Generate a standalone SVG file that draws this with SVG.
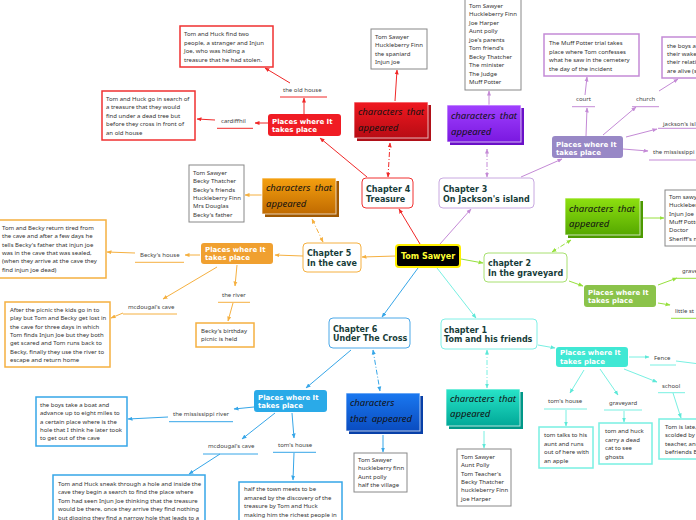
<svg xmlns="http://www.w3.org/2000/svg" width="696" height="520" viewBox="0 0 696 520">
<defs>
<style>
.t{font-family:"Noto Sans","Open Sans",sans-serif;font-size:6px;fill:#333}
.lb{font-family:"Noto Sans","Open Sans",sans-serif;font-size:6px;fill:#444}
.ch{font-family:"DejaVu Sans",Verdana,sans-serif;font-weight:bold;font-size:8px;fill:#163c38}
.pl{font-family:"DejaVu Sans",Verdana,sans-serif;font-weight:bold;font-size:7px;fill:#fff}
.ca{font-family:"Noto Sans",sans-serif;font-style:italic;font-size:9.5px;fill:#111;word-spacing:2px}
.root{font-family:"DejaVu Sans",Verdana,sans-serif;font-weight:bold;font-size:8px;fill:#ffff33}
.chap{fill:#fff;stroke-width:1}
.info{fill:#fff;stroke-width:1.5}
.names{fill:#fff;stroke:#888;stroke-width:1}
.cbox{stroke:#fff;stroke-opacity:.7;stroke-width:1}
.c line,.c path{fill:none;stroke-width:1}
.r{stroke:#f02828}.p{stroke:#c48ad6}.g{stroke:#96e03c}.cy{stroke:#78f0e2}.b{stroke:#36a6e8}.o{stroke:#f5b040}
.dash{stroke-dasharray:5 2 1 2}
</style>
<marker id="mr" viewBox="0 0 10 10" refX="9" refY="5" markerWidth="5" markerHeight="5" orient="auto-start-reverse"><path d="M0,1L10,5L0,9z" fill="#f02828"/></marker>
<marker id="mp" viewBox="0 0 10 10" refX="9" refY="5" markerWidth="5" markerHeight="5" orient="auto-start-reverse"><path d="M0,1L10,5L0,9z" fill="#c48ad6"/></marker>
<marker id="mg" viewBox="0 0 10 10" refX="9" refY="5" markerWidth="5" markerHeight="5" orient="auto-start-reverse"><path d="M0,1L10,5L0,9z" fill="#96e03c"/></marker>
<marker id="mc" viewBox="0 0 10 10" refX="9" refY="5" markerWidth="5" markerHeight="5" orient="auto-start-reverse"><path d="M0,1L10,5L0,9z" fill="#5ee8d8"/></marker>
<marker id="mb" viewBox="0 0 10 10" refX="9" refY="5" markerWidth="5" markerHeight="5" orient="auto-start-reverse"><path d="M0,1L10,5L0,9z" fill="#36a6e8"/></marker>
<marker id="mo" viewBox="0 0 10 10" refX="9" refY="5" markerWidth="5" markerHeight="5" orient="auto-start-reverse"><path d="M0,1L10,5L0,9z" fill="#f5b040"/></marker>
<linearGradient id="gr" x1="0" y1="0" x2="0" y2="1"><stop offset="0" stop-color="#f01820"/><stop offset="1" stop-color="#b80c14"/></linearGradient>
<linearGradient id="gp" x1="0" y1="0" x2="0" y2="1"><stop offset="0" stop-color="#a040ff"/><stop offset="1" stop-color="#7a18e0"/></linearGradient>
<linearGradient id="gg" x1="0" y1="0" x2="0" y2="1"><stop offset="0" stop-color="#8ee010"/><stop offset="1" stop-color="#55a800"/></linearGradient>
<linearGradient id="gc" x1="0" y1="0" x2="0" y2="1"><stop offset="0" stop-color="#28e4c8"/><stop offset="1" stop-color="#00a898"/></linearGradient>
<linearGradient id="gb" x1="0" y1="0" x2="0" y2="1"><stop offset="0" stop-color="#1a78f0"/><stop offset="1" stop-color="#0a4cc0"/></linearGradient>
<linearGradient id="go" x1="0" y1="0" x2="0" y2="1"><stop offset="0" stop-color="#f5a010"/><stop offset="1" stop-color="#c06a00"/></linearGradient>
</defs>

<g id="connectors" class="c">
<!-- red -->
<line class="r" x1="420" y1="244" x2="399" y2="209" marker-end="url(#mr)"/>
<line class="r" x1="367" y1="177" x2="320" y2="138" marker-end="url(#mr)"/>
<line class="r dash" x1="388" y1="177" x2="390" y2="143" marker-start="url(#mr)" marker-end="url(#mr)"/>
<line class="r" x1="395" y1="101" x2="397" y2="70" marker-end="url(#mr)"/>
<line class="r" x1="304" y1="114" x2="304" y2="98" marker-end="url(#mr)"/>
<line class="r" x1="290" y1="83" x2="265" y2="68" marker-end="url(#mr)"/>
<line class="r" x1="268" y1="123" x2="255" y2="123" marker-end="url(#mr)"/>
<line class="r" x1="215" y1="120" x2="197" y2="119" marker-end="url(#mr)"/>
<!-- purple -->
<line class="p" x1="440" y1="244" x2="471" y2="209" marker-end="url(#mp)"/>
<line class="p dash" x1="487" y1="177" x2="487" y2="149" marker-start="url(#mp)" marker-end="url(#mp)"/>
<line class="p" x1="489" y1="105" x2="489" y2="91" marker-end="url(#mp)"/>
<line class="p" x1="521" y1="177" x2="562" y2="159" marker-end="url(#mp)"/>
<line class="p" x1="586" y1="136" x2="587" y2="108" marker-end="url(#mp)"/>
<line class="p" x1="585" y1="95" x2="587" y2="77" marker-end="url(#mp)"/>
<line class="p" x1="603" y1="135" x2="636" y2="107" marker-end="url(#mp)"/>
<line class="p" x1="659" y1="91" x2="678" y2="79" marker-end="url(#mp)"/>
<line class="p" x1="626" y1="137" x2="657" y2="129" marker-end="url(#mp)"/>
<line class="p" x1="623" y1="149" x2="648" y2="151" marker-end="url(#mp)"/>
<!-- green -->
<line class="g" x1="461" y1="259" x2="483" y2="263" marker-end="url(#mg)"/>
<line class="g dash" x1="552" y1="252" x2="571" y2="240" marker-start="url(#mg)" marker-end="url(#mg)"/>
<line class="g" x1="641" y1="218" x2="664" y2="218" marker-end="url(#mg)"/>
<line class="g" x1="569" y1="281" x2="583" y2="286" marker-end="url(#mg)"/>
<line class="g" x1="658" y1="285" x2="677" y2="278" marker-end="url(#mg)"/>
<line class="g" x1="658" y1="303" x2="670" y2="305" marker-end="url(#mg)"/>
<!-- cyan -->
<line class="cy" x1="437" y1="268" x2="476" y2="318" marker-end="url(#mc)"/>
<line class="cy" x1="538" y1="345" x2="555" y2="348" marker-end="url(#mc)"/>
<line class="cy dash" x1="487" y1="350" x2="487" y2="388" marker-start="url(#mc)" marker-end="url(#mc)"/>
<line class="cy" x1="484" y1="431" x2="484" y2="448" marker-end="url(#mc)"/>
<line class="cy" x1="629" y1="357" x2="649" y2="357" marker-end="url(#mc)"/>
<line class="cy" x1="676" y1="361" x2="700" y2="364"/>
<line class="cy" x1="624" y1="369" x2="657" y2="382" marker-end="url(#mc)"/>
<line class="cy" x1="673" y1="393" x2="681" y2="418" marker-end="url(#mc)"/>
<line class="cy" x1="584" y1="370" x2="570" y2="393" marker-end="url(#mc)"/>
<line class="cy" x1="566" y1="410" x2="566" y2="426" marker-end="url(#mc)"/>
<line class="cy" x1="600" y1="369" x2="618" y2="395" marker-end="url(#mc)"/>
<line class="cy" x1="624" y1="411" x2="624" y2="422" marker-end="url(#mc)"/>
<!-- blue -->
<line class="b" x1="418" y1="268" x2="382" y2="317" marker-end="url(#mb)"/>
<line class="b" x1="351" y1="350" x2="306" y2="388" marker-end="url(#mb)"/>
<line class="b dash" x1="373" y1="350" x2="380" y2="391" marker-start="url(#mb)" marker-end="url(#mb)"/>
<line class="b" x1="383" y1="435" x2="383" y2="452" marker-end="url(#mb)"/>
<line class="b" x1="292" y1="413" x2="294" y2="438" marker-end="url(#mb)"/>
<line class="b" x1="294" y1="453" x2="293" y2="480" marker-end="url(#mb)"/>
<line class="b" x1="275" y1="413" x2="242" y2="439" marker-end="url(#mb)"/>
<line class="b" x1="220" y1="454" x2="189" y2="474" marker-end="url(#mb)"/>
<line class="b" x1="254" y1="407" x2="234" y2="409" marker-end="url(#mb)"/>
<line class="b" x1="168" y1="417" x2="128" y2="419" marker-end="url(#mb)"/>
<!-- orange -->
<line class="o" x1="396" y1="256" x2="362" y2="257" marker-end="url(#mo)"/>
<line class="o" x1="303" y1="256" x2="275" y2="255" marker-end="url(#mo)"/>
<line class="o dash" x1="323" y1="242" x2="312" y2="219" marker-start="url(#mo)" marker-end="url(#mo)"/>
<line class="o" x1="262" y1="195" x2="245" y2="195" marker-end="url(#mo)"/>
<line class="o" x1="200" y1="255" x2="185" y2="255" marker-end="url(#mo)"/>
<line class="o" x1="135" y1="253" x2="107" y2="252" marker-end="url(#mo)"/>
<line class="o" x1="237" y1="265" x2="235" y2="286" marker-end="url(#mo)"/>
<line class="o" x1="233" y1="303" x2="228" y2="321" marker-end="url(#mo)"/>
<line class="o" x1="217" y1="267" x2="163" y2="299" marker-end="url(#mo)"/>
<line class="o" x1="123" y1="313" x2="111" y2="318" marker-end="url(#mo)"/>
</g>

<g id="root-node"><rect x="396" y="245" width="64" height="22" rx="3" fill="#000" stroke="#ffef00" stroke-width="2"/><text class="root" x="428" y="259" text-anchor="middle">Tom Sawyer</text></g>

<!-- Chapter 4 -->
<g id="ch4"><rect class="chap" x="362" y="178" width="51" height="30" rx="4" stroke="#f03030"/><text class="ch" x="366" y="192">Chapter 4</text><text class="ch" x="366" y="201.5">Treasure</text></g>
<g id="ch4-places"><rect x="268" y="114" width="73" height="22" rx="3" fill="#f01c24"/><text class="pl" x="272" y="124">Places where It</text><text class="pl" x="272" y="132">takes place</text></g>
<g id="ch4-chars"><rect x="357" y="105" width="74" height="36" fill="#b01018"/><rect class="cbox" x="354" y="102" width="74" height="36" fill="url(#gr)"/><text class="ca" x="358" y="115">characters that</text><text class="ca" x="358" y="131">appeared</text></g>
<g id="ch4-names"><rect class="names" x="371" y="29" width="56" height="40"/><text class="t" x="375" y="39">Tom Sawyer<tspan x="375" dy="8.4">Huckleberry Finn</tspan><tspan x="375" dy="8.4">the spaniard</tspan><tspan x="375" dy="8.4">Injun joe</tspan></text></g>
<g id="ch4-oldhouse"><text class="lb" x="283" y="92">the old house</text><line x1="280" y1="97" x2="327" y2="97" stroke="#f02828"/></g>
<g id="ch4-oldhouse-box"><rect class="info" x="180" y="26" width="93" height="41" stroke="#f03030"/><text class="t" x="184" y="36">Tom and Huck find two<tspan x="184" dy="8.5">people, a stranger and Injun</tspan><tspan x="184" dy="8.5">Joe, who was hiding a</tspan><tspan x="184" dy="8.5">treasure that he had stolen.</tspan></text></g>
<g id="ch4-cardiff"><text class="lb" x="221" y="123">cardiffhil</text><line x1="217" y1="128.3" x2="253" y2="128.3" stroke="#f02828"/></g>
<g id="ch4-cardiff-box"><rect class="info" x="102" y="91" width="93" height="49" stroke="#f03030"/><text class="t" x="106" y="101">Tom and Huck go in search of<tspan x="106" dy="8.4">a treasure that they would</tspan><tspan x="106" dy="8.4">find under a dead tree but</tspan><tspan x="106" dy="8.4">before they cross in front of</tspan><tspan x="106" dy="8.4">an old house</tspan></text></g>

<!-- Chapter 3 -->
<g id="ch3"><rect class="chap" x="439" y="178" width="95" height="30" rx="4" stroke="#c8a8e0"/><text class="ch" x="443" y="192">Chapter 3</text><text class="ch" x="443" y="202">On Jackson's island</text></g>
<g id="ch3-chars"><rect x="450" y="108" width="74" height="37" fill="#6a10c8"/><rect class="cbox" x="447" y="105" width="74" height="37" fill="url(#gp)"/><text class="ca" x="451" y="119">characters that</text><text class="ca" x="451" y="135">appeared</text></g>
<g id="ch3-names"><rect class="names" x="465" y="-4" width="56" height="94"/><text class="t" x="469" y="7.8">Tom Sawyer<tspan x="469" dy="8.5">Huckleberry Finn</tspan><tspan x="469" dy="8.5">Joe Harper</tspan><tspan x="469" dy="8.5">Aunt polly</tspan><tspan x="469" dy="8.5">joe's parents</tspan><tspan x="469" dy="8.5">Tom friend's</tspan><tspan x="469" dy="8.5">Becky Thatcher</tspan><tspan x="469" dy="8.5">The minister</tspan><tspan x="469" dy="8.5">The Judge</tspan><tspan x="469" dy="8.5">Muff Potter</tspan></text></g>
<g id="ch3-places"><rect x="552" y="136" width="71" height="22" rx="3" fill="#9888c6"/><text class="pl" x="556" y="146.5">Places where It</text><text class="pl" x="556" y="154.5">takes place</text></g>
<g id="ch3-court"><text class="lb" x="576" y="101">court</text><line x1="572" y1="106.7" x2="595" y2="106.7" stroke="#c48ad6"/></g>
<g id="ch3-court-box"><rect class="info" x="544" y="34" width="95" height="42" stroke="#c48ad6"/><text class="t" x="549" y="45">The Muff Potter trial takes<tspan x="549" dy="8.5">place where Tom confesses</tspan><tspan x="549" dy="8.5">what he saw in the cemetery</tspan><tspan x="549" dy="8.5">the day of the incident</tspan></text></g>
<g id="ch3-church"><text class="lb" x="636" y="101">church</text><line x1="632" y1="106.7" x2="659" y2="106.7" stroke="#c48ad6"/></g>
<g id="ch3-church-box"><rect class="info" x="662" y="37" width="40" height="41" stroke="#c48ad6"/><text class="t" x="667" y="47.7">the boys ap<tspan x="667" dy="8.3">their wake</tspan><tspan x="667" dy="8.3">their relati</tspan><tspan x="667" dy="8.3">are alive (s</tspan></text></g>
<g id="ch3-jackson"><text class="lb" x="663" y="125.5">jackson's isl</text><line x1="658" y1="128.3" x2="700" y2="128.3" stroke="#c48ad6"/></g>
<g id="ch3-miss"><text class="lb" x="653" y="154">the mississippi r</text><line x1="649" y1="160" x2="700" y2="160" stroke="#c48ad6"/></g>

<!-- chapter 2 -->
<g id="ch2"><rect class="chap" x="484" y="253" width="83" height="29" rx="4" stroke="#a8e070"/><text class="ch" x="488" y="265.5">chapter 2</text><text class="ch" x="488" y="275.5">In the graveyard</text></g>
<g id="ch2-chars"><rect x="568" y="201" width="75" height="37" fill="#4c9a00"/><rect class="cbox" x="565" y="198" width="75" height="37" fill="url(#gg)"/><text class="ca" x="569" y="211.5">characters that</text><text class="ca" x="569" y="227">appeared</text></g>
<g id="ch2-names"><rect class="names" x="665" y="190" width="40" height="56"/><text class="t" x="669" y="198.7">Tom sawy<tspan x="669" dy="8.4">Huckleber</tspan><tspan x="669" dy="8.4">Injun Joe</tspan><tspan x="669" dy="8.4">Muff Potte</tspan><tspan x="669" dy="8.4">Doctor</tspan><tspan x="669" dy="8.4">Sheriff's m</tspan></text></g>
<g id="ch2-places"><rect x="584" y="285" width="72" height="22" rx="3" fill="#8bc34a"/><text class="pl" x="588" y="295">Places where It</text><text class="pl" x="588" y="303">takes place</text></g>
<g id="ch2-grave"><text class="lb" x="682" y="273">grave</text><line x1="677" y1="278.3" x2="700" y2="278.3" stroke="#96e03c"/></g>
<g id="ch2-little"><text class="lb" x="675" y="313">little st</text><line x1="671" y1="318.3" x2="700" y2="318.3" stroke="#96e03c"/></g>

<!-- chapter 1 -->
<g id="ch1"><rect class="chap" x="441" y="319" width="96" height="30" rx="4" stroke="#80f0e6"/><text class="ch" x="444" y="333">chapter 1</text><text class="ch" x="444" y="342">Tom and his friends</text></g>
<g id="ch1-places"><rect x="556" y="347" width="72" height="20" rx="3" fill="#40e8d4"/><text class="pl" x="560" y="355">Places where It</text><text class="pl" x="560" y="364">takes place</text></g>
<g id="ch1-chars"><rect x="449" y="392" width="74" height="37" fill="#009888"/><rect class="cbox" x="446" y="389" width="74" height="37" fill="url(#gc)"/><text class="ca" x="450" y="402">characters that</text><text class="ca" x="450" y="417">appeared</text></g>
<g id="ch1-names"><rect class="names" x="457" y="449" width="54" height="57"/><text class="t" x="461" y="458.7">Tom Sawyer<tspan x="461" dy="8.4">Aunt Polly</tspan><tspan x="461" dy="8.4">Tom Teacher's</tspan><tspan x="461" dy="8.4">Becky Thatcher</tspan><tspan x="461" dy="8.4">huckleberry Finn</tspan><tspan x="461" dy="8.4">joe Harper</tspan></text></g>
<g id="ch1-fence"><text class="lb" x="654" y="360">Fence</text><line x1="650" y1="365" x2="676" y2="365" stroke="#78f0e2"/></g>
<g id="ch1-school"><text class="lb" x="662" y="388">school</text><line x1="658" y1="392.7" x2="685" y2="392.7" stroke="#78f0e2"/></g>
<g id="ch1-school-box"><rect class="info" x="659" y="419" width="45" height="40" stroke="#78f0e2"/><text class="t" x="665" y="429">Tom is late,<tspan x="665" dy="8.4">scolded by</tspan><tspan x="665" dy="8.4">teacher, and</tspan><tspan x="665" dy="8.4">befriends B</tspan></text></g>
<g id="ch1-house"><text class="lb" x="548" y="403">tom's house</text><line x1="544" y1="409" x2="587" y2="409" stroke="#78f0e2"/></g>
<g id="ch1-house-box"><rect class="info" x="539" y="427" width="54" height="41" stroke="#78f0e2"/><text class="t" x="544" y="437">tom talks to his<tspan x="544" dy="8.5">aunt and runs</tspan><tspan x="544" dy="8.5">out of here with</tspan><tspan x="544" dy="8.5">an apple</tspan></text></g>
<g id="ch1-grave"><text class="lb" x="609" y="405">graveyard</text><line x1="604" y1="410" x2="642" y2="410" stroke="#78f0e2"/></g>
<g id="ch1-grave-box"><rect class="info" x="599" y="423" width="53" height="41" stroke="#78f0e2"/><text class="t" x="605" y="433">tom and huck<tspan x="605" dy="8.6">carry a dead</tspan><tspan x="605" dy="8.6">cat to see</tspan><tspan x="605" dy="8.6">ghosts</tspan></text></g>

<!-- Chapter 6 -->
<g id="ch6"><rect class="chap" x="329" y="318" width="81" height="30" rx="4" stroke="#4aa8e8"/><text class="ch" x="333" y="332">Chapter 6</text><text class="ch" x="333" y="341">Under The Cross</text></g>
<g id="ch6-places"><rect x="254" y="390" width="73" height="22" rx="3" fill="#2aaae8"/><text class="pl" x="258" y="399.5">Places where It</text><text class="pl" x="258" y="408">takes place</text></g>
<g id="ch6-chars"><rect x="349" y="396" width="74" height="38" fill="#0840a8"/><rect class="cbox" x="346" y="393" width="74" height="38" fill="url(#gb)"/><text class="ca" x="350" y="406">characters</text><text class="ca" x="350" y="422">that appeared</text></g>
<g id="ch6-names"><rect class="names" x="354" y="453" width="53" height="39"/><text class="t" x="358" y="462">Tom Sawyer<tspan x="358" dy="8.4">huckleberry finn</tspan><tspan x="358" dy="8.4">Aunt polly</tspan><tspan x="358" dy="8.4">half the village</tspan></text></g>
<g id="ch6-house"><text class="lb" x="278" y="447">tom's house</text><line x1="273" y1="452.3" x2="316" y2="452.3" stroke="#36a6e8"/></g>
<g id="ch6-house-box"><rect class="info" x="239" y="482" width="103" height="45" stroke="#36a6e8"/><text class="t" x="244" y="491.3">half the town meets to be<tspan x="244" dy="8.4">amazed by the discovery of the</tspan><tspan x="244" dy="8.4">treasure by Tom and Huck</tspan><tspan x="244" dy="8.4">making him the richest people in</tspan></text></g>
<g id="ch6-cave"><text class="lb" x="208" y="448">mcdougal's cave</text><line x1="203" y1="454" x2="258" y2="454" stroke="#36a6e8"/></g>
<g id="ch6-cave-box"><rect class="info" x="53" y="475" width="152" height="52" stroke="#36a6e8"/><text class="t" x="58" y="486">Tom and Huck sneak through a hole and inside the<tspan x="58" dy="8.4">cave they begin a search to find the place where</tspan><tspan x="58" dy="8.4">Tom had seen Injun Joe thinking that the treasure</tspan><tspan x="58" dy="8.4">would be there, once they arrive they find nothing</tspan><tspan x="58" dy="8.4">but digging they find a narrow hole that leads to a</tspan></text></g>
<g id="ch6-miss"><text class="lb" x="173" y="416">the mississippi river</text><line x1="169" y1="421.7" x2="233" y2="421.7" stroke="#36a6e8"/></g>
<g id="ch6-miss-box"><rect class="info" x="36" y="397" width="91" height="49" stroke="#36a6e8"/><text class="t" x="40" y="406.7">the boys take a boat and<tspan x="40" dy="8.4">advance up to eight miles to</tspan><tspan x="40" dy="8.4">a certain place where is the</tspan><tspan x="40" dy="8.4">hole that I think he later took</tspan><tspan x="40" dy="8.4">to get out of the cave</tspan></text></g>

<!-- Chapter 5 -->
<g id="ch5"><rect class="chap" x="303" y="243" width="58" height="29" rx="4" stroke="#f5b040"/><text class="ch" x="307" y="256">Chapter 5</text><text class="ch" x="307" y="265.5">In the cave</text></g>
<g id="ch5-chars"><rect x="265" y="181" width="74" height="36" fill="#a05800"/><rect class="cbox" x="262" y="178" width="74" height="36" fill="url(#go)"/><text class="ca" x="266" y="190.5">characters that</text><text class="ca" x="266" y="206.5">appeared</text></g>
<g id="ch5-names"><rect class="names" x="189" y="165" width="55" height="57"/><text class="t" x="193" y="174.7">Tom Sawyer<tspan x="193" dy="8.4">Becky Thatcher</tspan><tspan x="193" dy="8.4">Becky's friends</tspan><tspan x="193" dy="8.4">Huckleberry Finn</tspan><tspan x="193" dy="8.4">Mrs Douglas</tspan><tspan x="193" dy="8.4">Becky's father</tspan></text></g>
<g id="ch5-places"><rect x="201" y="243" width="72" height="21" rx="3" fill="#f0a030"/><text class="pl" x="205" y="252">Places where It</text><text class="pl" x="205" y="260">takes place</text></g>
<g id="ch5-becky"><text class="lb" x="140" y="257">Becky's house</text><line x1="135" y1="262.3" x2="184" y2="262.3" stroke="#f5b040"/></g>
<g id="ch5-becky-box"><rect class="info" x="-3" y="220" width="109" height="58" stroke="#f5b040"/><text class="t" x="2" y="229.7">Tom and Becky return tired from<tspan x="2" dy="8.4">the cave and after a few days he</tspan><tspan x="2" dy="8.4">tells Becky's father that injun joe</tspan><tspan x="2" dy="8.4">was in the cave that was sealed,</tspan><tspan x="2" dy="8.4">(when they arrive at the cave they</tspan><tspan x="2" dy="8.4">find injun joe dead)</tspan></text></g>
<g id="ch5-river"><text class="lb" x="222" y="296.5">the river</text><line x1="218" y1="302.3" x2="250" y2="302.3" stroke="#f5b040"/></g>
<g id="ch5-river-box"><rect class="info" x="196" y="323" width="58" height="24" stroke="#f5b040"/><text class="t" x="201" y="332.7">Becky's birthday<tspan x="201" dy="8.4">picnic is held</tspan></text></g>
<g id="ch5-cave"><text class="lb" x="128" y="309">mcdougal's cave</text><line x1="123" y1="314" x2="177" y2="314" stroke="#f5b040"/></g>
<g id="ch5-cave-box"><rect class="info" x="5" y="302" width="105" height="65" stroke="#f5b040"/><text class="t" x="10" y="311.7">After the picnic the kids go in to<tspan x="10" dy="8.4">play but Tom and Becky get lost in</tspan><tspan x="10" dy="8.4">the cave for three days in which</tspan><tspan x="10" dy="8.4">Tom finds Injun Joe but they both</tspan><tspan x="10" dy="8.4">get scared and Tom runs back to</tspan><tspan x="10" dy="8.4">Becky, finally they use the river to</tspan><tspan x="10" dy="8.4">escape and return home</tspan></text></g>
</svg>
